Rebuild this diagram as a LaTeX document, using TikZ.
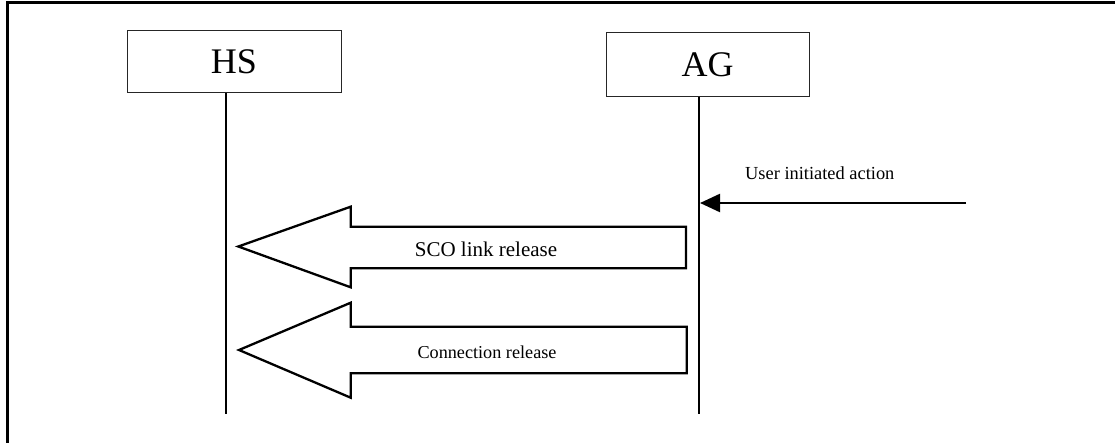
\documentclass[tikz,border=0pt]{standalone}
\usepackage{fontspec}
\setmainfont{Liberation Serif}
\usetikzlibrary{arrows.meta}
\begin{document}
\begin{tikzpicture}[x=1pt,y=-1pt,
  entity/.style={draw=black!85,line width=1pt,minimum width=214pt,minimum height=62pt,inner sep=0pt,font=\fontsize{36}{40}\selectfont},
  lifeline/.style={line width=2.5pt},
  bigarrow/.style={draw,line width=2.3pt,fill=white,line join=miter},
  lbl/.style={inner sep=0pt},
  msg/.style={line width=2.3pt,-{Triangle[length=20pt,width=18pt]}}]
\useasboundingbox (0,0) rectangle (1115,443);
\draw[line width=3pt] (7,443) -- (7,3) -- (1115,3);
% entities
\node[entity] (hs) at (234,62) {HS};
\node[entity,minimum width=203pt,minimum height=64pt] (ag) at (707.5,65) {AG};
% lifelines
\coordinate (hstop) at (226,93);
\coordinate (hsbot) at (226,414);
\coordinate (agtop) at (699,97);
\coordinate (agbot) at (699,414);
\draw[lifeline] (hstop) -- (hsbot);
\draw[lifeline] (agtop) -- (agbot);
% user action
\coordinate (ustart) at (966,203);
\coordinate (uend) at (700,203);
\draw[msg] (ustart) -- (uend);
\node[lbl,anchor=base west,font=\fontsize{18.4}{20}\selectfont] (user) at (745,179.3) {User initiated action};
% SCO link release
\draw[bigarrow] (686,226.7) -- (350.7,226.7) -- (350.7,206.7) -- (238.3,246.5) -- (350.7,287.3) -- (350.7,268.3) -- (686,268.3) -- cycle;
\node[lbl,font=\fontsize{21}{24}\selectfont] (sco) at (486,249) {SCO link release};
% Connection release
\draw[bigarrow] (686.7,326.7) -- (350.7,326.7) -- (350.7,302.7) -- (239,350) -- (350.7,397.7) -- (350.7,373.3) -- (686.7,373.3) -- cycle;
\node[lbl,font=\fontsize{18.2}{20}\selectfont] (conn) at (487,352) {Connection release};
\end{tikzpicture}
\end{document}
